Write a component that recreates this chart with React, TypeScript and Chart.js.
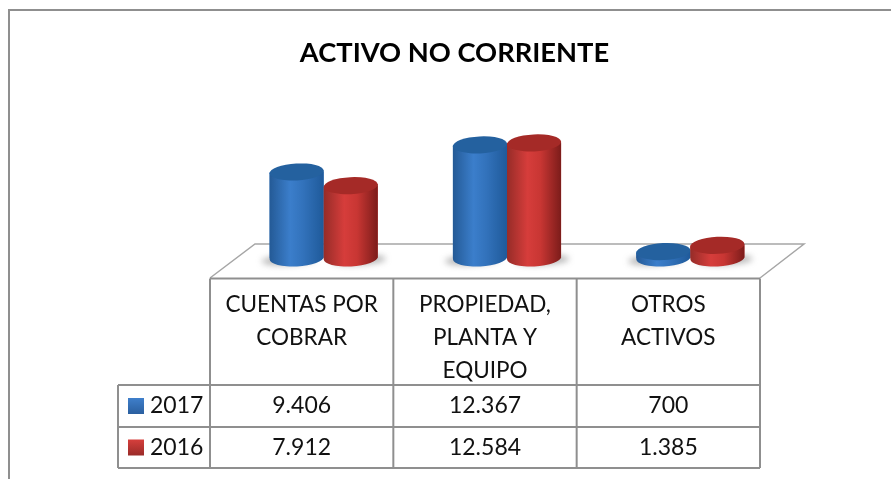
import React, { useEffect, useRef } from "react";
import { Chart, registerables } from "chart.js";

Chart.register(...registerables);

const TITLE = "ACTIVO NO CORRIENTE";
const categories = [["CUENTAS POR", "COBRAR"], ["PROPIEDAD,", "PLANTA Y", "EQUIPO"], ["OTROS", "ACTIVOS"]];
const seriesNames = ["2017", "2016"];
const values2017 = [9406, 12367, 700];
const values2016 = [7912, 12584, 1385];

const FONT = "Lato, Carlito, sans-serif";
const LINE = "#8f8f8f";
const TEXT = "#111111";
const PERSPECTIVE_X = 22;
const TILT = -0.05;

const fmt = (v: number) => String(v).replace(/\B(?=(\d{3})+$)/g, ".");

const palettes = [
  { flat: "#3a7bc8", stops: ["#245a96", "#3b7ecb", "#3272bb", "#1f5a9a"], cap: "#24619f", swatch: ["#3f7fcb", "#2a5f9f"] },
  { flat: "#c8322f", stops: ["#962c28", "#d63d3b", "#c83633", "#7c1c1a"], cap: "#a52a27", swatch: ["#d63f3c", "#9a2b28"] },
];

const cylinderPlugin = {
  id: "cylinders",
  beforeDraw(chart: any) {
    const { ctx, scales } = chart;
    const x = scales.x;
    const base = scales.y.getPixelForValue(0);
    ctx.save();
    ctx.strokeStyle = LINE;
    ctx.lineWidth = 2;
    ctx.beginPath();
    ctx.moveTo(chart.width, 10);
    ctx.lineTo(9, 10);
    ctx.lineTo(9, chart.height);
    ctx.stroke();
    const fl = x.left - PERSPECTIVE_X;
    const fr = x.right - PERSPECTIVE_X;
    ctx.strokeStyle = "#a6a6a6";
    ctx.lineWidth = 1.5;
    ctx.beginPath();
    ctx.moveTo(fl, base + 20);
    ctx.lineTo(fl + 45, base - 14);
    ctx.lineTo(fr + 44, base - 14);
    ctx.lineTo(fr, base + 20);
    ctx.stroke();
    ctx.restore();
  },
  afterDatasetsDraw(chart: any) {
    const { ctx } = chart;
    const metas = [chart.getDatasetMeta(0), chart.getDatasetMeta(1)];
    ctx.save();
    ctx.filter = "blur(3px)";
    ctx.fillStyle = "rgba(90,90,90,0.45)";
    metas.forEach((m: any, ds: number) =>
      m.data.forEach((b: any) => {
        const rx = b.width / 2;
        ctx.beginPath();
        ctx.ellipse(b.x + (ds ? 8 : -8), b.base + 2, rx, 5, TILT, 0, Math.PI * 2);
        ctx.fill();
      })
    );
    ctx.filter = "blur(0.5px)";
    for (let i = 0; i < categories.length; i++) {
      metas.forEach((m: any, ds: number) => {
        const b = m.data[i];
        const p = palettes[ds];
        const rx = b.width / 2;
        const ry = 8.5;
        const dy = rx * Math.sin(TILT);
        const l = b.x - rx;
        const r = b.x + rx;
        const g = ctx.createLinearGradient(l, 0, r, 0);
        g.addColorStop(0, p.stops[0]);
        g.addColorStop(0.38, p.stops[1]);
        g.addColorStop(0.62, p.stops[2]);
        g.addColorStop(1, p.stops[3]);
        ctx.fillStyle = g;
        ctx.beginPath();
        ctx.moveTo(l, b.y - dy);
        ctx.lineTo(l, b.base - dy);
        ctx.ellipse(b.x, b.base, rx, ry, TILT, Math.PI, 0, true);
        ctx.lineTo(r, b.y + dy);
        ctx.closePath();
        ctx.fill();
        ctx.fillStyle = p.cap;
        ctx.beginPath();
        ctx.ellipse(b.x, b.y, rx, ry, TILT, 0, Math.PI * 2);
        ctx.fill();
      });
    }
    ctx.restore();
  },
  afterDraw(chart: any) {
    const { ctx, scales } = chart;
    const x = scales.x;
    const base = scales.y.getPixelForValue(0);
    const left = x.left - PERSPECTIVE_X;
    const cw = x.width / categories.length;
    const top = base + 20.5;
    const r1 = base + 127;
    const r2 = base + 169;
    const r3 = base + 210;
    const legendLeft = left - 92;
    ctx.save();
    ctx.strokeStyle = LINE;
    ctx.lineWidth = 2;
    ctx.beginPath();
    for (let i = 0; i <= categories.length; i++) {
      ctx.moveTo(left + i * cw, top);
      ctx.lineTo(left + i * cw, r3);
    }
    ctx.moveTo(left, top);
    ctx.lineTo(left + 3 * cw, top);
    [r1, r2, r3].forEach((y) => {
      ctx.moveTo(legendLeft, y);
      ctx.lineTo(left + 3 * cw, y);
    });
    ctx.moveTo(legendLeft, r1);
    ctx.lineTo(legendLeft, r3);
    ctx.stroke();

    ctx.fillStyle = TEXT;
    ctx.textBaseline = "middle";
    ctx.textAlign = "center";
    ctx.font = `22.5px ${FONT}`;
    categories.forEach((lines, i) => {
      const cx = x.getPixelForValue(i) - PERSPECTIVE_X;
      lines.forEach((t, k) => ctx.fillText(t, cx, base + 47 + k * 33));
    });
    ctx.font = `23px ${FONT}`;
    const rows = [values2017, values2016];
    rows.forEach((vals, ri) => {
      const cy = (ri === 0 ? r1 + r2 : r2 + r3) / 2;
      vals.forEach((v, i) => {
        ctx.fillStyle = TEXT;
        ctx.textAlign = "center";
        ctx.fillText(fmt(v), x.getPixelForValue(i) - PERSPECTIVE_X, cy);
      });
      const sw = ctx.createLinearGradient(0, cy - 8, 0, cy + 8);
      sw.addColorStop(0, palettes[ri].swatch[0]);
      sw.addColorStop(1, palettes[ri].swatch[1]);
      ctx.fillStyle = sw;
      ctx.fillRect(legendLeft + 10, cy - 8, 16, 16);
      ctx.fillStyle = TEXT;
      ctx.textAlign = "left";
      ctx.fillText(seriesNames[ri], legendLeft + 32, cy);
    });
    ctx.restore();
  },
};

export default function App() {
  const ref = useRef<HTMLCanvasElement>(null);
  useEffect(() => {
    const chart = new Chart(ref.current as HTMLCanvasElement, {
      type: "bar",
      data: {
        labels: categories as any,
        datasets: [
          { label: seriesNames[0], data: values2017, backgroundColor: palettes[0].flat },
          { label: seriesNames[1], data: values2016, backgroundColor: palettes[1].flat },
        ],
      },
      options: {
        responsive: false,
        animation: false,
        layout: { padding: { left: 127, right: 109, top: 0, bottom: 0 } },
        datasets: { bar: { categoryPercentage: 0.59, barPercentage: 1 } },
        plugins: {
          legend: { display: false },
          tooltip: { enabled: false },
          title: {
            display: true,
            text: TITLE,
            color: "#000000",
            font: { family: FONT, size: 27.3, weight: "bold" },
            padding: { top: 37, bottom: 60.2 },
          },
        },
        scales: {
          x: {
            ticks: { display: false },
            grid: { display: false },
            border: { display: false },
            afterFit: (s: any) => { s.height = 221; },
          },
          y: {
            min: 0,
            max: 14000,
            ticks: { display: false },
            grid: { display: false },
            border: { display: false },
            afterFit: (s: any) => { s.width = 105; },
          },
        },
      } as any,
      plugins: [cylinderPlugin],
    });
    return () => chart.destroy();
  }, []);
  return (
    <canvas
      ref={ref}
      width={891}
      height={479}
      style={{ position: "absolute", left: 0, top: 0, display: "block" }}
    />
  );
}
